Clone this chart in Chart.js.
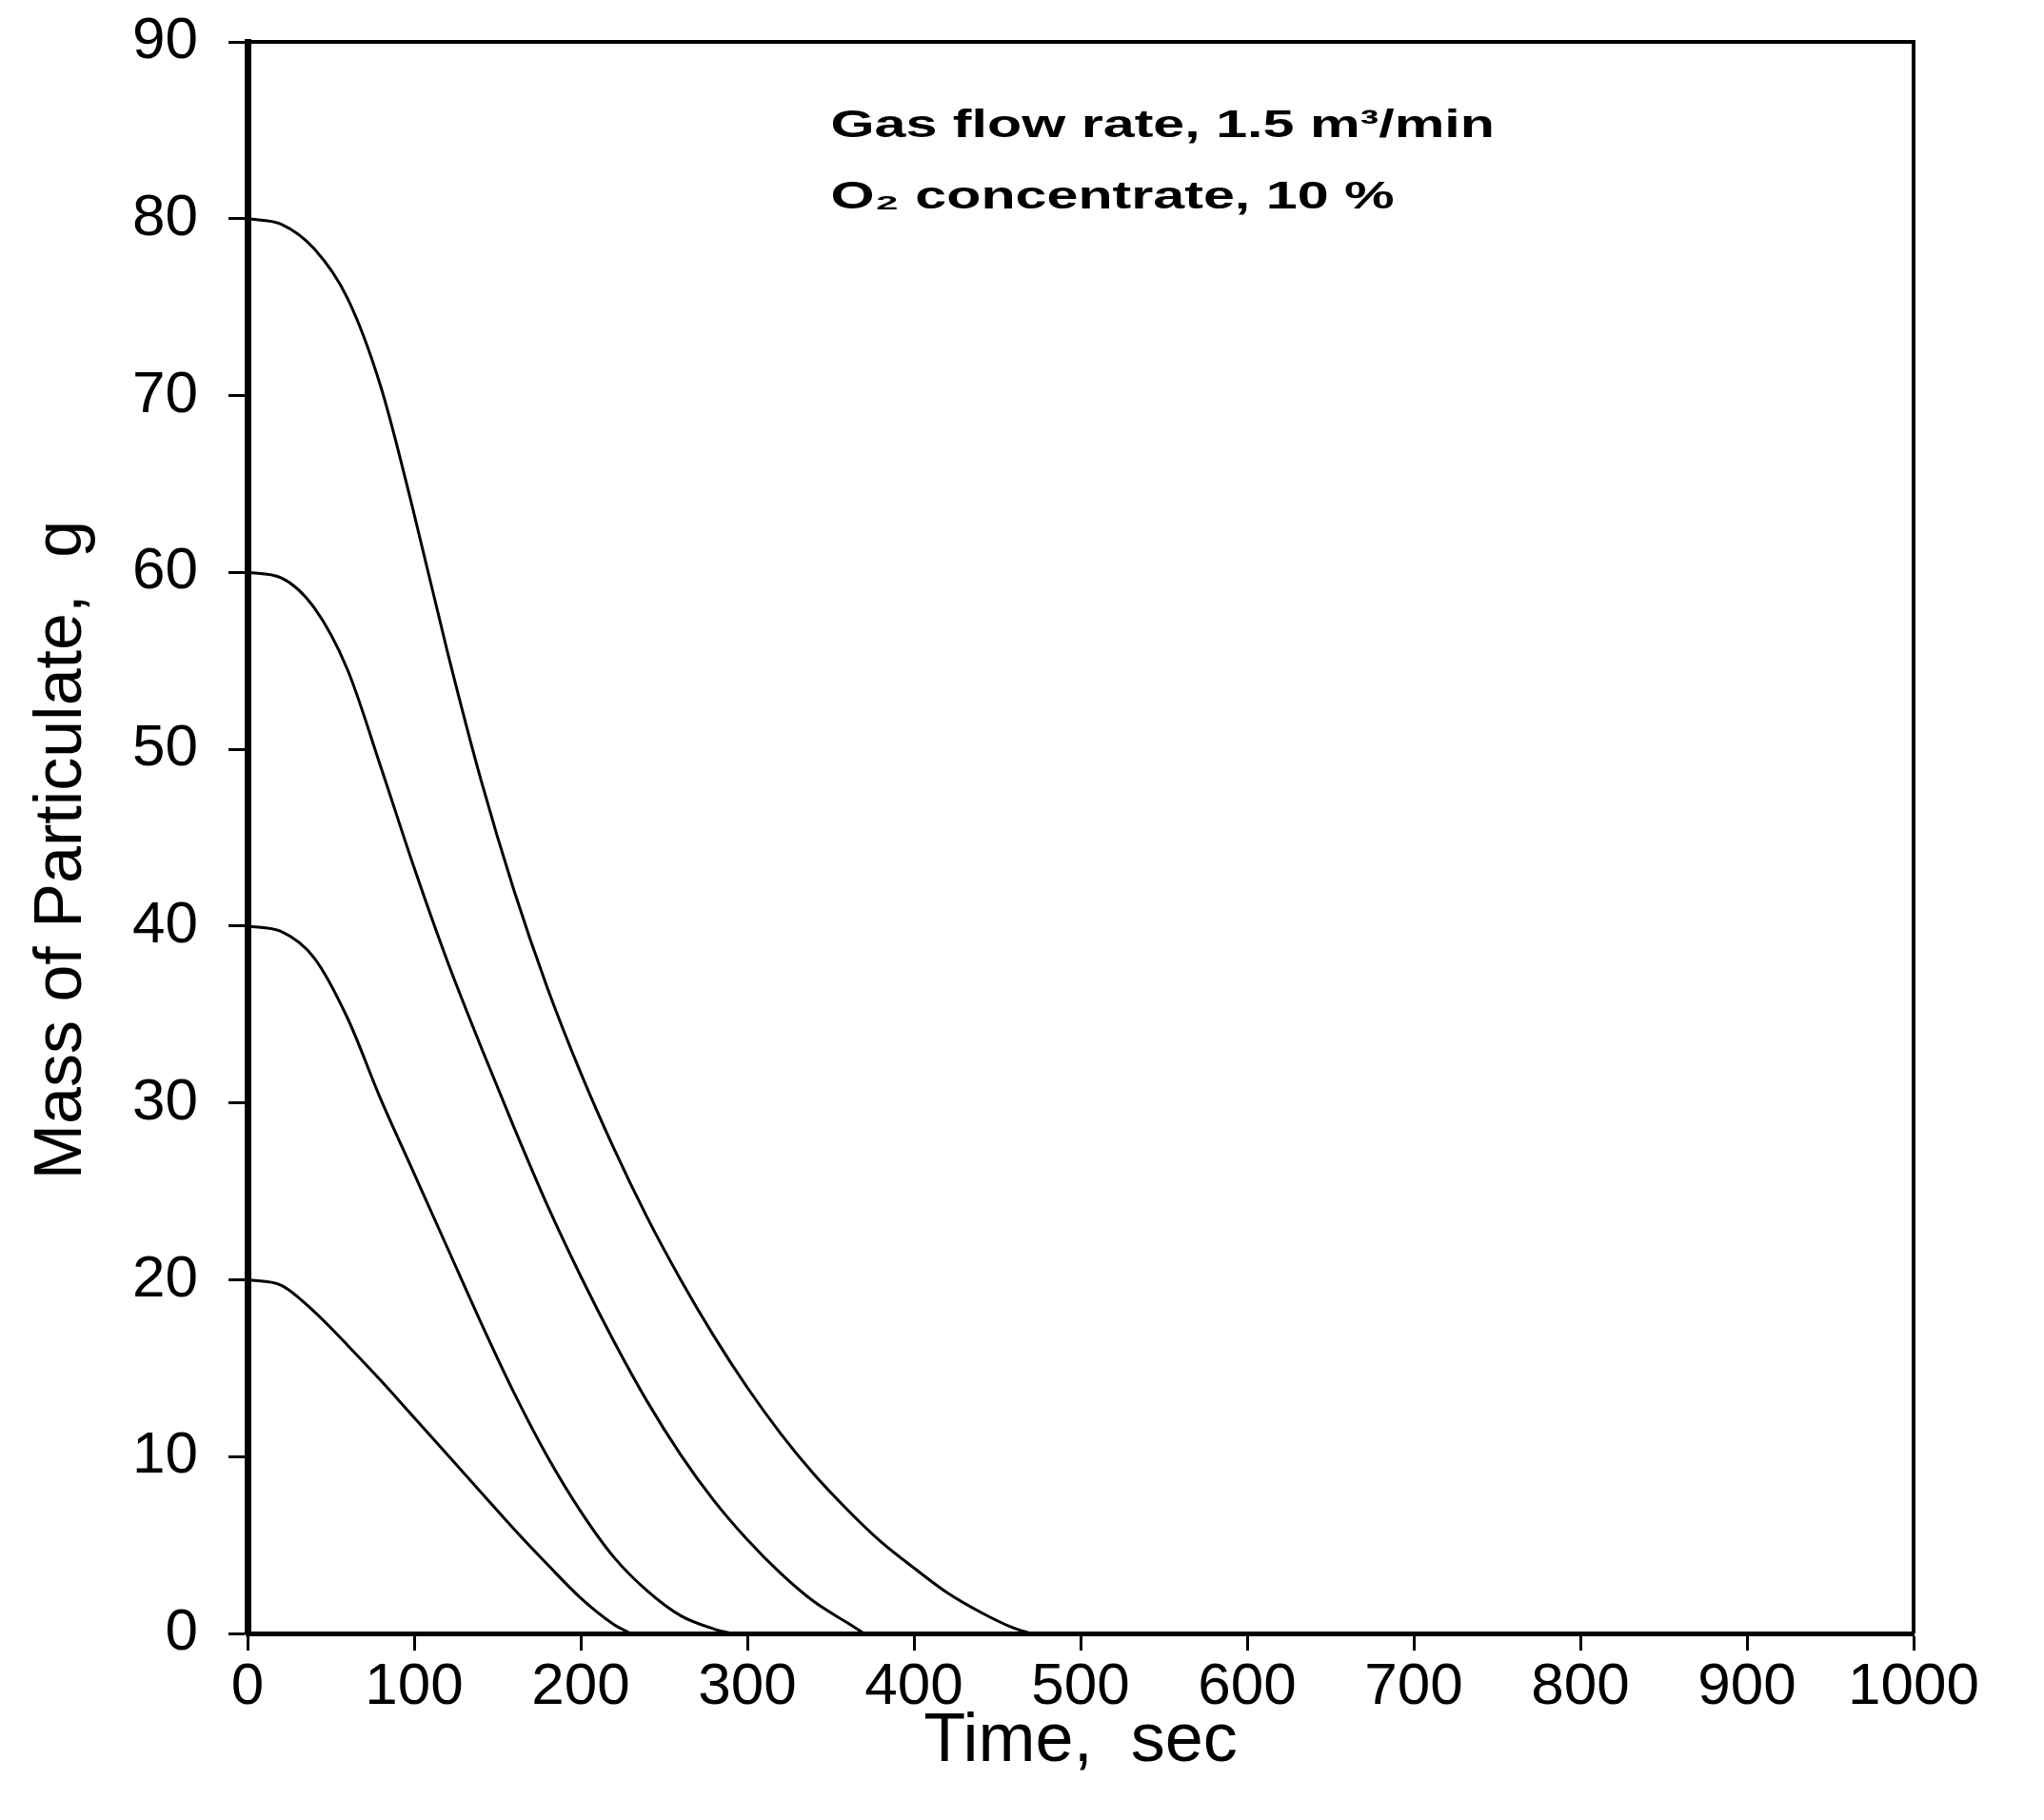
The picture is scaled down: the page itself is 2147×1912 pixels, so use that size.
<!DOCTYPE html>
<html>
<head>
<meta charset="utf-8">
<script src="https://cdn.jsdelivr.net/npm/chart.js@4/dist/chart.umd.min.js"></script>
<style>
  body { margin: 0; background: #fff; }
</style>
</head>
<body>
<canvas id="myChart" width="2147" height="1912"></canvas>
<script>
// values: time in sec, mass in g
const t20 = [0, 20, 40, 60, 80, 100, 120, 140, 160, 180, 200, 220, 230];
const m20 = [20, 19.7, 18.2, 16.3, 14.3, 12.2, 10.1, 8, 5.9, 3.9, 2, 0.5, 0];

const t40 = [0, 20, 40, 60, 80, 100, 120, 140, 160, 180, 200, 220, 240, 260, 280, 290];
const m40 = [40, 39.7, 38.2, 34.8, 30.2, 26, 21.8, 17.6, 13.6, 10, 6.9, 4.3, 2.4, 1, 0.25, 0];

const t60 = [0, 20, 40, 60, 80, 100, 120, 140, 160, 180, 200, 220, 240, 260, 280, 300, 320, 340, 360, 370];
const m60 = [60, 59.7, 58, 54.5, 49, 43.3, 38, 33.2, 28.6, 24.2, 20.2, 16.5, 13.1, 10.1, 7.5, 5.3, 3.4, 1.8, 0.6, 0];

const t80 = [0, 20, 40, 60, 80, 100, 120, 140, 160, 180, 200, 220, 240, 260, 280, 300, 320, 340, 360, 380, 400, 420, 440, 460, 470];
const m80 = [80, 79.7, 78.3, 75.5, 70.5, 63.3, 55.5, 48.3, 42, 36.5, 31.7, 27.4, 23.5, 20, 16.8, 13.9, 11.3, 9, 7, 5.2, 3.7, 2.3, 1.2, 0.3, 0];

const xTicks = [0, 100, 200, 300, 400, 500, 600, 700, 800, 900, 1000];
const yTicks = [0, 10, 20, 30, 40, 50, 60, 70, 80, 90];

const noteLines = ['Gas flow rate, 1.5 m\u00B3/min', 'O\u2082 concentrate, 10 %'];
const xTitle = 'Time,  sec';
const yTitle = 'Mass of Particulate,  g';

function pts(ts, ms) {
    return ts.map((t, i) => ({ x: t, y: ms[i] }));
}

function curve(ts, ms) {
    return {
        data: pts(ts, ms),
        borderColor: '#000',
        borderWidth: 3,
        pointRadius: 0,
        cubicInterpolationMode: 'monotone',
        fill: false
    };
}

Chart.defaults.font.family = '"Liberation Sans", Arial, sans-serif';
Chart.defaults.color = '#000';

// box on top and right, titles and the note in the corner
const extras = {
    id: 'extras',
    afterDraw(chart) {
        const c = chart.ctx;
        const a = chart.chartArea;
        const xs = chart.scales.x;
        const ys = chart.scales.y;
        c.save();
        c.strokeStyle = '#000';
        c.lineWidth = 4;
        c.beginPath();
        c.moveTo(a.left, a.top);
        c.lineTo(a.right, a.top);
        c.lineTo(a.right, a.bottom);
        c.stroke();

        // the note is set in a wide, short bold face
        c.fillStyle = '#000';
        c.font = 'bold 40px "Liberation Sans", Arial, sans-serif';
        c.textAlign = 'left';
        c.textBaseline = 'alphabetic';
        const nx = xs.getPixelForValue(350);
        [84.6, 80.6].forEach((v, i) => {
            c.save();
            c.translate(nx, ys.getPixelForValue(v));
            c.scale(1.48, 1);
            c.fillText(noteLines[i], 0, 0);
            c.restore();
        });

        c.font = '72px "Liberation Sans", Arial, sans-serif';
        c.textAlign = 'center';
        c.textBaseline = 'middle';
        c.fillText(xTitle, (a.left + a.right) / 2, 1830);

        c.font = '70px "Liberation Sans", Arial, sans-serif';
        c.translate(66, (a.top + a.bottom) / 2 + 13);
        c.rotate(-Math.PI / 2);
        c.fillText(yTitle, 0, 0);
        c.restore();
    }
};

let ctx = document.getElementById('myChart');

let myChart = new Chart(ctx, {
    type: 'line',
    data: {
        datasets: [
            curve(t80, m80),
            curve(t60, m60),
            curve(t40, m40),
            curve(t20, m20)
        ]
    },
    options: {
        responsive: false,
        animation: false,
        layout: { padding: { left: 0, top: 44, right: 137, bottom: 0 } },
        plugins: {
            legend: { display: false },
            tooltip: { enabled: false }
        },
        scales: {
            x: {
                type: 'linear',
                min: 0,
                max: 1000,
                afterBuildTicks: s => { s.ticks = xTicks.map(v => ({ value: v })); },
                afterFit: s => { s.height = 196; s.paddingLeft = 0; s.paddingRight = 0; },
                grid: { drawOnChartArea: false, drawTicks: true, tickLength: 18, tickWidth: 3, color: '#000' },
                border: { display: true, width: 5, color: '#000' },
                ticks: { padding: 2, font: { size: 62 }, maxRotation: 0, callback: v => String(v) }
            },
            y: {
                type: 'linear',
                min: 0,
                max: 90,
                afterBuildTicks: s => { s.ticks = yTicks.map(v => ({ value: v })); },
                afterFit: s => { s.width = 260; s.paddingTop = 0; s.paddingBottom = 0; },
                grid: { drawOnChartArea: false, drawTicks: true, tickLength: 20, tickWidth: 3, color: '#000' },
                border: { display: true, width: 7, color: '#000' },
                ticks: { padding: 32, font: { size: 62 }, callback: v => String(v) }
            }
        }
    },
    plugins: [extras]
});
</script>
</body>
</html>
